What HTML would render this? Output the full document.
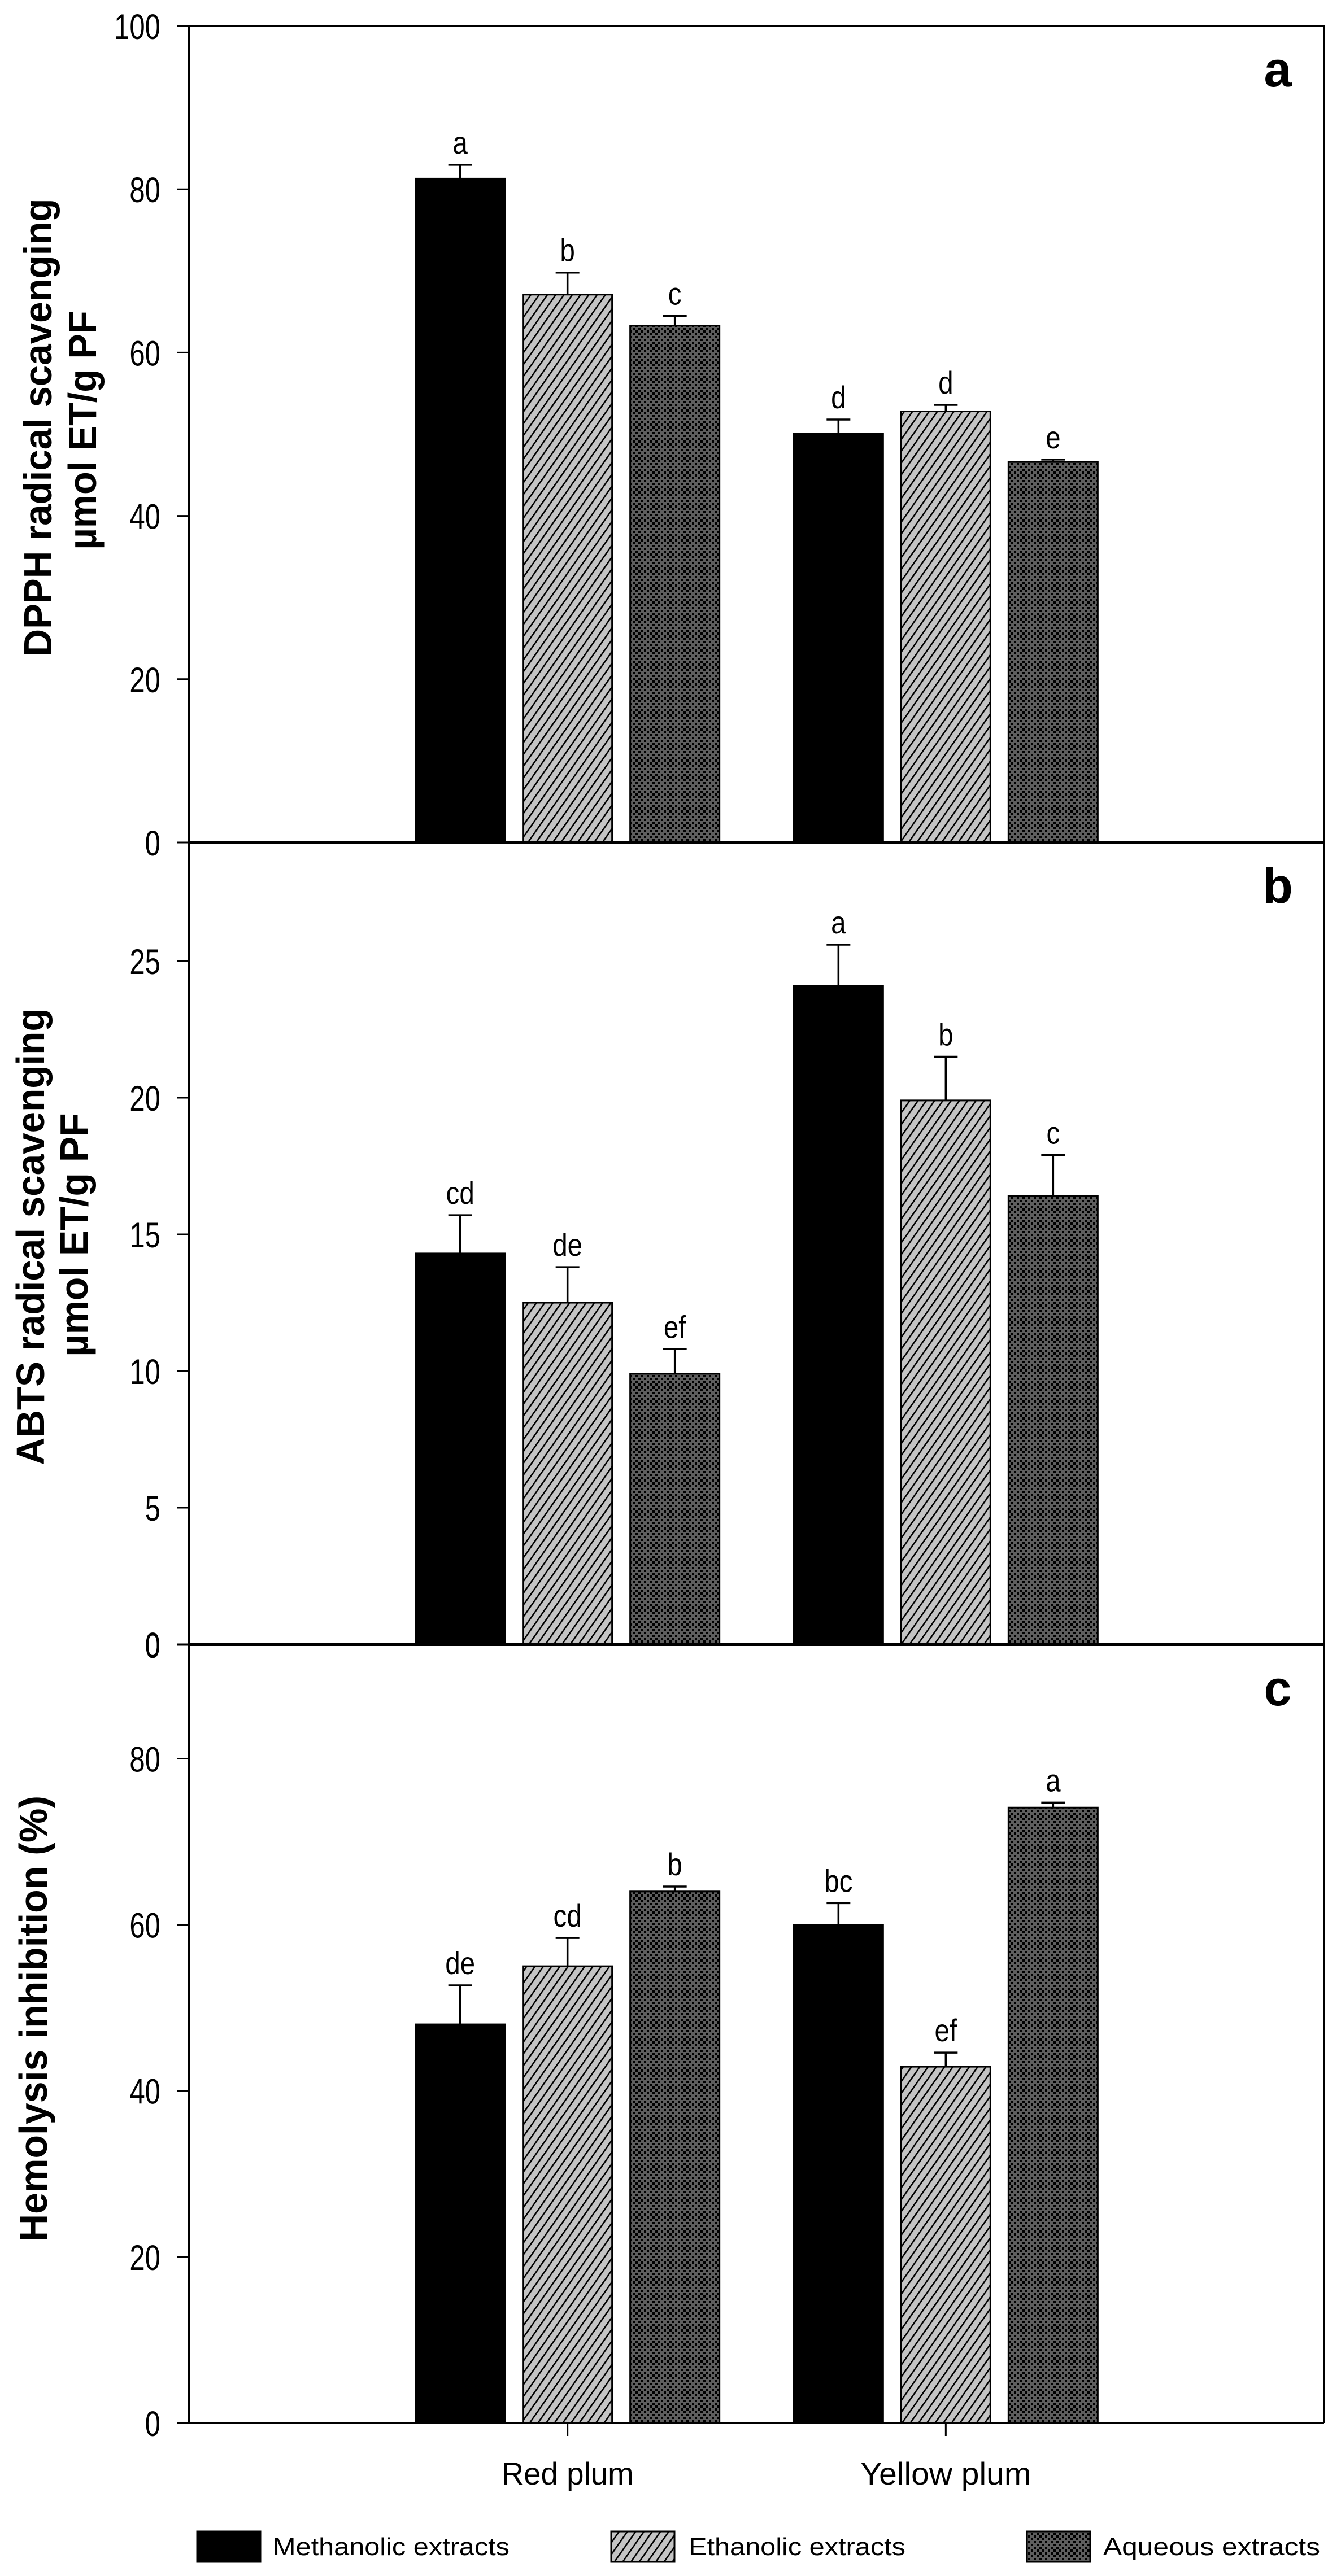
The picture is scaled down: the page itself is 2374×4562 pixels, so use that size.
<!DOCTYPE html>
<html><head><meta charset="utf-8"><style>
html,body{margin:0;padding:0;background:#fff;}
svg{display:block;}
text{font-family:"Liberation Sans",Arial,sans-serif;}
</style></head><body>
<svg id="chart" xmlns="http://www.w3.org/2000/svg" width="2374" height="4562" viewBox="0 0 2374 4562">
<defs>
<pattern id="hatch" patternUnits="userSpaceOnUse" width="12" height="12" patternTransform="rotate(35)">
<rect width="12" height="12" fill="#c4c4c4"/><rect x="0" y="0" width="2.6" height="12" fill="#000"/>
</pattern>
<pattern id="cross" patternUnits="userSpaceOnUse" width="10" height="10">
<rect width="10" height="10" fill="#5e5e5e"/><rect x="0" y="0" width="4" height="4" fill="#000"/><rect x="5" y="5" width="4" height="4" fill="#000"/>
</pattern>
</defs>
<g id="root"></g>
</svg>
<script>
const categories = ["Red plum", "Yellow plum"];
const seriesNames = ["Methanolic extracts", "Ethanolic extracts", "Aqueous extracts"];
// Panel a: DPPH
const dpphMethanolic = [81.3, 50.1];
const dpphEthanolic = [67.1, 52.8];
const dpphAqueous = [63.3, 46.6];
const dpphErrMethanolic = [1.7, 1.7];
const dpphErrEthanolic = [2.7, 0.8];
const dpphErrAqueous = [1.2, 0.3];
const dpphLetters = [["a","b","c"],["d","d","e"]];
const dpphTicks = [0, 20, 40, 60, 80, 100];
// Panel b: ABTS
const abtsMethanolic = [14.3, 24.1];
const abtsEthanolic = [12.5, 19.9];
const abtsAqueous = [9.9, 16.4];
const abtsErrMethanolic = [1.4, 1.5];
const abtsErrEthanolic = [1.3, 1.6];
const abtsErrAqueous = [0.9, 1.5];
const abtsLetters = [["cd","de","ef"],["a","b","c"]];
const abtsTicks = [0, 5, 10, 15, 20, 25];
// Panel c: Hemolysis
const hemoMethanolic = [48.0, 60.0];
const hemoEthanolic = [55.0, 42.9];
const hemoAqueous = [64.0, 74.1];
const hemoErrMethanolic = [4.7, 2.6];
const hemoErrEthanolic = [3.4, 1.7];
const hemoErrAqueous = [0.6, 0.6];
const hemoLetters = [["de","cd","b"],["bc","ef","a"]];
const hemoTicks = [0, 20, 40, 60, 80];

const NS = "http://www.w3.org/2000/svg";
const root = document.getElementById("root");
function mk(tag, attrs, parent, txt) {
  const e = document.createElementNS(NS, tag);
  for (const k in attrs) e.setAttribute(k, attrs[k]);
  if (txt !== undefined) e.textContent = txt;
  (parent || root).appendChild(e);
  return e;
}
const X0 = 335, X1 = 2344;
function xCenter(i) { return X0 + (i + 1) * (X1 - X0) / 3; }
const BAR_W = 158, BAR_GAP = 190;
function xBar(i, s) { return xCenter(i) + (s - 1) * BAR_GAP; }
const fills = ["#000", "url(#hatch)", "url(#cross)"];

const panels = [
  { key: "dpph", top: 46, zero: 1492, max: 100, ticks: dpphTicks, vals: [dpphMethanolic, dpphEthanolic, dpphAqueous], errs: [dpphErrMethanolic, dpphErrEthanolic, dpphErrAqueous], letters: dpphLetters, tag: "a",
    title: [["DPPH radical scavenging", 91, 757, 811], ["µmol ET/g PF", 170, 762, 423]] },
  { key: "abts", top: 1492, zero: 2912, max: 29.34, ticks: abtsTicks, vals: [abtsMethanolic, abtsEthanolic, abtsAqueous], errs: [abtsErrMethanolic, abtsErrEthanolic, abtsErrAqueous], letters: abtsLetters, tag: "b",
    title: [["ABTS radical scavenging", 78, 2190, 809], ["µmol ET/g PF", 155, 2187, 431]] },
  { key: "hemolysis", top: 2913, zero: 4291, max: 93.7, ticks: hemoTicks, vals: [hemoMethanolic, hemoEthanolic, hemoAqueous], errs: [hemoErrMethanolic, hemoErrEthanolic, hemoErrAqueous], letters: hemoLetters, tag: "c",
    title: [["Hemolysis inhibition (%)", 83, 3575, 790]] }
];

panels.forEach(p => {
  const g = mk("g", {});
  
  
  const y = v => p.zero - v / p.max * (p.zero - p.top);
  // bars
  for (let s = 0; s < 3; s++) {
    for (let i = 0; i < categories.length; i++) {
      const v = p.vals[s][i], e = p.errs[s][i];
      const cx = xBar(i, s);
      const r = mk("rect", { x: cx - BAR_W / 2, y: y(v), width: BAR_W, height: p.zero - y(v), fill: fills[s], stroke: "#000", "stroke-width": 3 }, g);
      
      
      const el = mk("path", { d: `M${cx},${y(v)}V${y(v + e)}M${cx - 21},${y(v + e)}H${cx + 21}`, stroke: "#000", "stroke-width": 3.5, fill: "none" }, g);
      
      
      const t = mk("text", { x: 0, y: 0, "font-size": 56, "text-anchor": "middle", transform: `translate(${cx},${y(v + e) - 20}) scale(0.85,1)` }, g, p.letters[i][s]);
      
      
    }
  }
  // frame
  const fr = mk("path", { d: `M${X0},${p.top}H${X1}V${p.zero}M${X0},${p.top}V${p.zero}H${X1}`, stroke: "#000", "stroke-width": 4, fill: "none" }, g);
  
  
  // ticks
  const tickList = p.ticks.slice();
  if (p.key === "abts" || p.key === "hemolysis") tickList.push("topzero");
  tickList.forEach(tv => {
    const yy = tv === "topzero" ? p.top : y(tv);
    const lab = tv === "topzero" ? "0" : String(tv);
    const tk = mk("line", { x1: 313, x2: X0, y1: yy, y2: yy, stroke: "#000", "stroke-width": 3 }, g);
    
    
    const tl = mk("text", { x: 0, y: 0, "font-size": 63, "text-anchor": "end", transform: `translate(284,${yy + 23}) scale(0.78,1)` }, g, lab);
    
    
  });
  // panel letter
  const pl = mk("text", { x: 2262, y: p.top + 107, "font-size": 88, "font-weight": "bold", "text-anchor": "middle" }, g, p.tag);
  
  
  // titles
  p.title.forEach(([txt, bx, cy, len]) => {
    const tt = mk("text", { x: 0, y: 0, "font-size": 70, "font-weight": "bold", "text-anchor": "middle", textLength: len, lengthAdjust: "spacingAndGlyphs", transform: `translate(${bx},${cy}) rotate(-90)` }, g, txt);
    
    
  });
});

// x-axis ticks and category labels
const catLens = [234, 302];
categories.forEach((c, i) => {
  const cx = xCenter(i);
  const tk = mk("line", { x1: cx, x2: cx, y1: 4291, y2: 4314, stroke: "#000", "stroke-width": 3 });
  
  
  const t = mk("text", { x: cx, y: 4400, "font-size": 56, "text-anchor": "middle", textLength: catLens[i], lengthAdjust: "spacingAndGlyphs" }, root, c);
  
  
});

// legend
const legSw = [349, 1082, 1818];
const legTx = [[483, 419], [1219, 384], [1953, 384]];
seriesNames.forEach((n, s) => {
  const g = mk("g", {});
  
  
  mk("rect", { x: legSw[s], y: 4483, width: 112, height: 54, fill: fills[s], stroke: "#000", "stroke-width": 3 }, g);
  mk("text", { x: legTx[s][0], y: 4525, "font-size": 44, textLength: legTx[s][1], lengthAdjust: "spacingAndGlyphs" }, g, n);
});
</script>
</body></html>
